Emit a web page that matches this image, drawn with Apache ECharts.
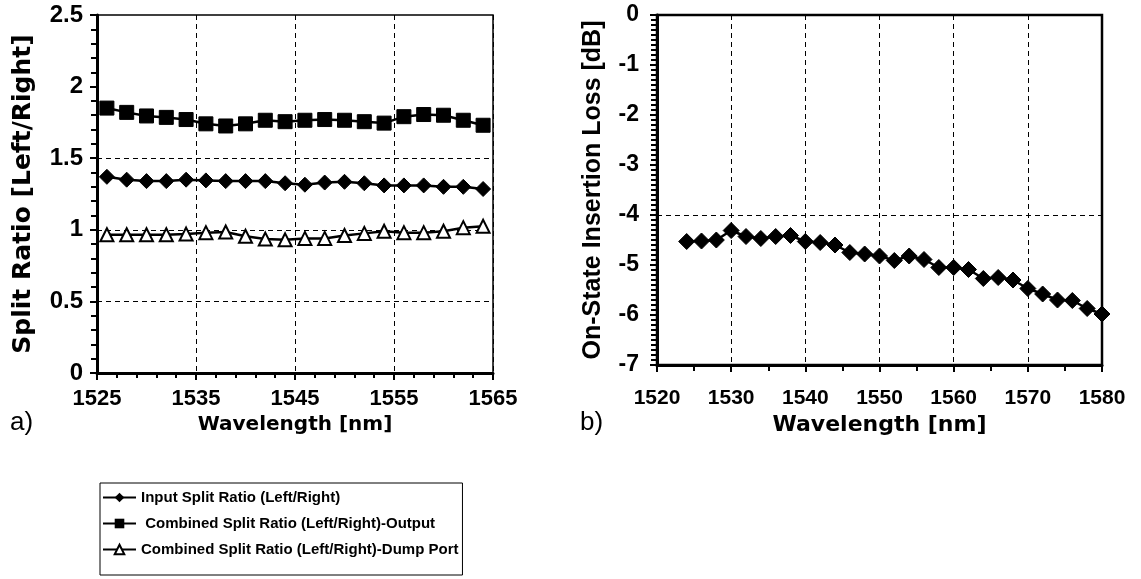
<!DOCTYPE html>
<html>
<head>
<meta charset="utf-8">
<script src="https://cdn.jsdelivr.net/npm/echarts@6/dist/echarts.min.js"></script>
<style>
  html, body { margin: 0; padding: 0; background: #fff; }
  #chart { width: 1141px; height: 579px; }
</style>
</head>
<body>
<div id="chart"></div>
<script>
// Panel a) split ratios versus wavelength
const wavelengthA = [1526, 1528, 1530, 1532, 1534, 1536, 1538, 1540, 1542, 1544,
                     1546, 1548, 1550, 1552, 1554, 1556, 1558, 1560, 1562, 1564];
const inputRatio = [1.37, 1.35, 1.34, 1.34, 1.35, 1.345, 1.34, 1.34, 1.34, 1.325,
                    1.315, 1.33, 1.335, 1.325, 1.31, 1.31, 1.31, 1.30, 1.30, 1.285];
const combinedOutput = [1.85, 1.82, 1.795, 1.785, 1.77, 1.74, 1.725, 1.74, 1.765, 1.755,
                        1.765, 1.77, 1.765, 1.755, 1.745, 1.79, 1.805, 1.80, 1.765, 1.73];
const combinedDump = [0.965, 0.965, 0.965, 0.965, 0.97, 0.98, 0.985, 0.955, 0.935, 0.93,
                      0.94, 0.94, 0.96, 0.975, 0.99, 0.98, 0.98, 0.99, 1.015, 1.025];
const seriesNamesA = ['Input Split Ratio (Left/Right)',
                      ' Combined Split Ratio (Left/Right)-Output',
                      'Combined Split Ratio (Left/Right)-Dump Port'];

// Panel b) on-state insertion loss versus wavelength
const wavelengthB = [1524, 1526, 1528, 1530, 1532, 1534, 1536, 1538, 1540, 1542,
                     1544, 1546, 1548, 1550, 1552, 1554, 1556, 1558, 1560, 1562,
                     1564, 1566, 1568, 1570, 1572, 1574, 1576, 1578, 1580];
const insertionLoss = [-4.53, -4.52, -4.50, -4.31, -4.43, -4.47, -4.43, -4.41, -4.53, -4.55,
                       -4.60, -4.75, -4.78, -4.82, -4.91, -4.82, -4.89, -5.05, -5.05, -5.09,
                       -5.27, -5.25, -5.30, -5.47, -5.58, -5.70, -5.71, -5.87, -5.98];

const xRangeA = [1525, 1565], yRangeA = [0, 2.5];
const xRangeB = [1520, 1580], yRangeB = [-7, 0];
const axisTitleX = 'Wavelength [nm]';
const axisTitleYA = 'Split Ratio [Left/Right]';
const axisTitleYB = 'On-State Insertion Loss [dB]';
const panelTags = ['a)', 'b)'];

const pair = (xs, ys) => xs.map((x, i) => [x, ys[i]]);
const plain = v => String(v);

const fontA = 'DejaVu Sans';
const fontB = 'Liberation Sans';
const black = '#000';
const clear = 'rgba(0,0,0,0)';
const dash = [5, 4];

function axisBase(font, size, margin) {
  return {
    axisLine: { show: true, onZero: false, lineStyle: { color: black, width: 3 } },
    axisTick: { show: true, inside: false, length: 7, lineStyle: { color: black, width: 2 } },
    axisLabel: { color: black, fontFamily: font, fontWeight: 'bold', fontSize: size, margin: margin, formatter: plain }
  };
}

const chart = echarts.init(document.getElementById('chart'), null, { renderer: 'canvas' });

const lineStyle = { color: black, width: 2.5 };

chart.setOption({
  animation: false,
  backgroundColor: '#fff',
  grid: [
    { left: 97, top: 15, width: 396, height: 358, show: true, borderColor: black, borderWidth: 1.5, backgroundColor: 'transparent' },
    { left: 657, top: 15, width: 445, height: 350, show: true, borderColor: black, borderWidth: 2.5, backgroundColor: 'transparent' }
  ],
  xAxis: [
    Object.assign(axisBase(fontB, 22, 15), {
      gridIndex: 0, type: 'value', min: xRangeA[0], max: xRangeA[1], interval: 10,
      minorTick: { show: true, splitNumber: 5, length: 5, lineStyle: { color: black, width: 2 } },
      splitLine: { show: true, showMinLine: true, showMaxLine: true, lineStyle: { color: black, width: 1, type: dash } },
      name: axisTitleX, nameLocation: 'middle', nameGap: 41,
      nameTextStyle: { color: black, fontFamily: fontA, fontWeight: 'bold', fontSize: 20 }
    }),
    Object.assign(axisBase(fontB, 21, 23), {
      gridIndex: 1, type: 'value', min: xRangeB[0], max: xRangeB[1], interval: 10,
      minorTick: { show: true, splitNumber: 2, length: 6, lineStyle: { color: black, width: 2 } },
      splitLine: { show: true, showMinLine: true, showMaxLine: true, lineStyle: { color: black, width: 1, type: dash } },
      name: axisTitleX, nameLocation: 'middle', nameGap: 48,
      nameTextStyle: { color: black, fontFamily: fontA, fontWeight: 'bold', fontSize: 22 }
    })
  ],
  yAxis: [
    Object.assign(axisBase(fontB, 24, 14), {
      gridIndex: 0, type: 'value', min: yRangeA[0], max: yRangeA[1], interval: 0.5,
      minorTick: { show: true, splitNumber: 5, length: 6, lineStyle: { color: black, width: 2 } },
      splitLine: {
        show: true, showMinLine: true, showMaxLine: true,
        lineStyle: { color: [clear, black, black, black, clear, clear], width: 1, type: dash }
      },
      name: axisTitleYA, nameLocation: 'middle', nameRotate: 90, nameGap: 61,
      nameTextStyle: { color: black, fontFamily: fontA, fontWeight: 'bold', fontSize: 25 }
    }),
    Object.assign(axisBase(fontB, 23, 18), {
      gridIndex: 1, type: 'value', min: yRangeB[0], max: yRangeB[1], interval: 1,
      minorTick: { show: true, splitNumber: 10, length: 6, lineStyle: { color: black, width: 2 } },
      splitLine: {
        show: true, showMinLine: true, showMaxLine: true,
        lineStyle: { color: [clear, clear, clear, black, clear, clear, clear, clear], width: 1, type: dash }
      },
      name: axisTitleYB, nameLocation: 'middle', nameRotate: 90, nameGap: 51,
      nameTextStyle: { color: black, fontFamily: fontB, fontWeight: 'bold', fontSize: 25 }
    })
  ],
  legend: {
    show: true, orient: 'vertical', left: 100, top: 483, height: 80,
    itemWidth: 33, itemHeight: 12, itemGap: 9,
    padding: [6, 4, 17, 2],
    borderColor: black, borderWidth: 1, borderRadius: 0,
    textStyle: { color: black, fontFamily: fontB, fontWeight: 'bold', fontSize: 15, lineHeight: 17 },
    data: seriesNamesA
  },
  graphic: [
    { type: 'text', left: 10, top: 410, style: { text: panelTags[0], font: '26px "Liberation Sans"', fill: black } },
    { type: 'text', left: 580, top: 410, style: { text: panelTags[1], font: '26px "Liberation Sans"', fill: black } }
  ],
  series: [
    {
      name: seriesNamesA[0], type: 'line', xAxisIndex: 0, yAxisIndex: 0,
      data: pair(wavelengthA, inputRatio),
      symbol: 'diamond', symbolSize: 15,
      itemStyle: { color: black, borderColor: black },
      lineStyle: lineStyle
    },
    {
      name: seriesNamesA[1], type: 'line', xAxisIndex: 0, yAxisIndex: 0,
      data: pair(wavelengthA, combinedOutput),
      symbol: 'rect', symbolSize: 14,
      itemStyle: { color: black, borderColor: black },
      lineStyle: lineStyle
    },
    {
      name: seriesNamesA[2], type: 'line', xAxisIndex: 0, yAxisIndex: 0,
      data: pair(wavelengthA, combinedDump),
      symbol: 'triangle', symbolSize: 13,
      itemStyle: { color: '#fff', borderColor: black, borderWidth: 2 },
      lineStyle: lineStyle
    },
    {
      name: axisTitleYB, type: 'line', xAxisIndex: 1, yAxisIndex: 1,
      data: pair(wavelengthB, insertionLoss),
      symbol: 'diamond', symbolSize: 16,
      itemStyle: { color: black, borderColor: black },
      lineStyle: lineStyle
    }
  ]
});
</script>
</body>
</html>
